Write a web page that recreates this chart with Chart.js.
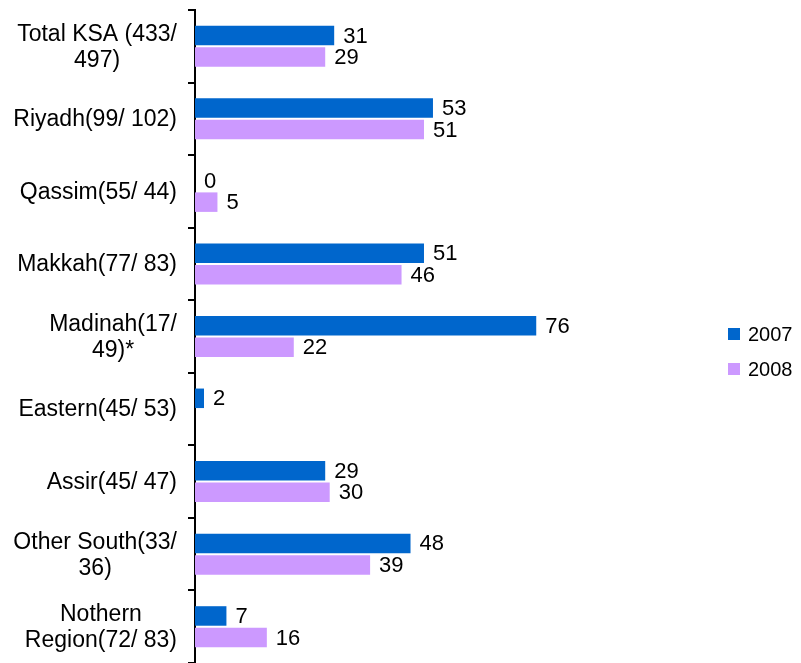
<!DOCTYPE html>
<html>
<head>
<meta charset="utf-8">
<script src="https://cdn.jsdelivr.net/npm/chart.js@4"></script>
<style>
  html, body { margin: 0; padding: 0; background: #fff; }
  #wrap { width: 801px; height: 663px; position: relative; }
</style>
</head>
<body>
<div id="wrap"><canvas id="c" width="801" height="663"></canvas></div>
<script>
const categories = [
  ['Total KSA (433/', '497)'],
  ['Riyadh(99/ 102)'],
  ['Qassim(55/ 44)'],
  ['Makkah(77/ 83)'],
  ['Madinah(17/', '49)*'],
  ['Eastern(45/ 53)'],
  ['Assir(45/ 47)'],
  ['Other South(33/', '36)'],
  ['Nothern', 'Region(72/ 83)']
];
const seriesNames = ['2007', '2008'];
const values2007 = [31, 53, 0, 51, 76, 2, 29, 48, 7];
const values2008 = [29, 51, 5, 46, 22, null, 30, 39, 16];
const colors = ['#0066CC', '#CC99FF'];

const FONT = '"Liberation Sans", Arial, Helvetica, sans-serif';

const customDraw = {
  id: 'customDraw',
  afterDatasetsDraw(chart) {
    const ctx = chart.ctx;
    ctx.save();
    ctx.fillStyle = '#000';
    ctx.textBaseline = 'middle';
    // value labels
    ctx.font = '22px ' + FONT;
    chart.data.datasets.forEach((ds, di) => {
      const meta = chart.getDatasetMeta(di);
      meta.data.forEach((el, i) => {
        const v = ds.data[i];
        if (v === null || v === undefined) return;
        ctx.textAlign = 'left';
        ctx.fillText(String(v), el.x + 9, el.y + 1);
      });
    });
    // category labels (right-aligned block, centered lines)
    ctx.font = '23px ' + FONT;
    const yScale = chart.scales.y;
    const rightX = 177;
    const lh = 26;
    chart.data.labels.forEach((lab, i) => {
      const lines = Array.isArray(lab) ? lab : [lab];
      let maxW = 0;
      lines.forEach(l => { maxW = Math.max(maxW, ctx.measureText(l).width); });
      const cx = rightX - maxW / 2;
      const cy = yScale.getPixelForValue(i);
      const startY = cy - (lines.length - 1) * lh / 2;
      ctx.textAlign = 'center';
      lines.forEach((l, k) => ctx.fillText(l, cx, startY + k * lh + 1));
    });
    // legend
    ctx.font = '20px ' + FONT;
    const lx = 728, ly = [334, 369];
    chart.data.datasets.forEach((ds, di) => {
      ctx.fillStyle = ds.backgroundColor;
      ctx.fillRect(lx, ly[di] - 6, 12, 12);
      ctx.fillStyle = '#000';
      ctx.textAlign = 'left';
      ctx.fillText(ds.label, lx + 20, ly[di] + 1);
    });
    ctx.restore();
  }
};

new Chart(document.getElementById('c'), {
  type: 'bar',
  data: {
    labels: categories,
    datasets: [
      { label: seriesNames[0], data: values2007, backgroundColor: colors[0], categoryPercentage: 0.593, barPercentage: 0.907 },
      { label: seriesNames[1], data: values2008, backgroundColor: colors[1], categoryPercentage: 0.593, barPercentage: 0.907 }
    ]
  },
  options: {
    indexAxis: 'y',
    responsive: false,
    animation: false,
    layout: { padding: { top: 10, bottom: 0, left: 0, right: 157 } },
    plugins: { legend: { display: false }, tooltip: { enabled: false } },
    scales: {
      x: { display: false, min: 0, max: 100 },
      y: {
        display: true,
        offset: true,
        afterFit(s) { s.width = 195; },
        ticks: { display: false },
        grid: { display: true, drawOnChartArea: false, drawTicks: true, tickLength: 7, color: '#000', lineWidth: 2, offset: true },
        border: { display: true, color: '#000', width: 2 }
      }
    }
  },
  plugins: [customDraw]
});
</script>
</body>
</html>
